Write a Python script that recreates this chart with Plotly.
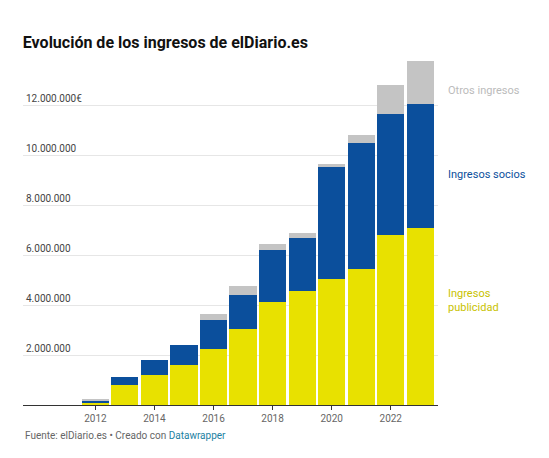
import plotly.graph_objects as go

years = list(range(2012, 2024))
publicidad = [0.1, 0.8, 1.2, 1.6, 2.25, 3.05, 4.13, 4.58, 5.06, 5.46, 6.83, 7.1]
socios = [0.1, 0.32, 0.6, 0.8, 1.15, 1.35, 2.07, 2.12, 4.5, 5.02, 4.82, 4.95]
otros = [0.05, 0.0, 0.0, 0.0, 0.25, 0.38, 0.23, 0.2, 0.08, 0.32, 1.15, 1.75]
publicidad = [v * 1e6 for v in publicidad]
socios = [v * 1e6 for v in socios]
otros = [v * 1e6 for v in otros]
tickvals = [2e6, 4e6, 6e6, 8e6, 10e6, 12e6]
ticktext = ["2.000.000", "4.000.000", "6.000.000", "8.000.000", "10.000.000", "12.000.000€"]
YMAX = 13.9e6

fig = go.Figure()
for name, vals, col in [("Ingresos publicidad", publicidad, "#e8e100"),
                        ("Ingresos socios", socios, "#0b4f9c"),
                        ("Otros ingresos", otros, "#c4c4c4")]:
    fig.add_bar(x=years, y=vals, name=name, marker=dict(color=col, line=dict(width=0)))

fig.update_layout(
    barmode="stack", bargap=0.08, width=549, height=458, showlegend=False,
    plot_bgcolor="white", paper_bgcolor="white",
    font=dict(family="Roboto", size=10, color="#666"),
    margin=dict(l=15, r=119, t=50, b=61),
    title=dict(text="<b>Evolución de los ingresos de elDiario.es</b>", x=0.027, y=0.924,
               yanchor="middle", font=dict(size=16, color="#111", family="Roboto")),
    xaxis=dict(tickvals=[2012, 2014, 2016, 2018, 2020, 2022], showgrid=False,
               range=[2009.55, 2023.6], ticks="outside", ticklen=4, tickcolor="#333",
               showline=True, linecolor="#333"),
    yaxis=dict(range=[0, YMAX], tickvals=tickvals, ticktext=ticktext, showgrid=True,
               gridcolor="#e6e6e6", ticklabelposition="inside top", zeroline=False),
)
fig.add_annotation(xref="paper", yref="paper", x=1.02, y=(publicidad[-1]+socios[-1]+otros[-1]/2)/YMAX,
                   text="Otros ingresos", showarrow=False, xanchor="left",
                   font=dict(color="#bbbbbb", size=11))
fig.add_annotation(xref="paper", yref="paper", x=1.02, y=(publicidad[-1]+socios[-1]/2)/YMAX,
                   text="Ingresos socios", showarrow=False, xanchor="left",
                   font=dict(color="#0b4f9c", size=11))
fig.add_annotation(xref="paper", yref="paper", x=1.02, y=publicidad[-1]/2/YMAX,
                   text="Ingresos<br>publicidad", showarrow=False, xanchor="left", align="left",
                   font=dict(color="#c8c200", size=11))
fig.add_annotation(xref="paper", yref="paper", x=0.0, y=-0.11, xanchor="left",
                   text="Fuente: elDiario.es • Creado con <span style='color:#1d81a2'>Datawrapper</span>",
                   showarrow=False, font=dict(size=10, color="#666"))
fig.write_html("out.html")
